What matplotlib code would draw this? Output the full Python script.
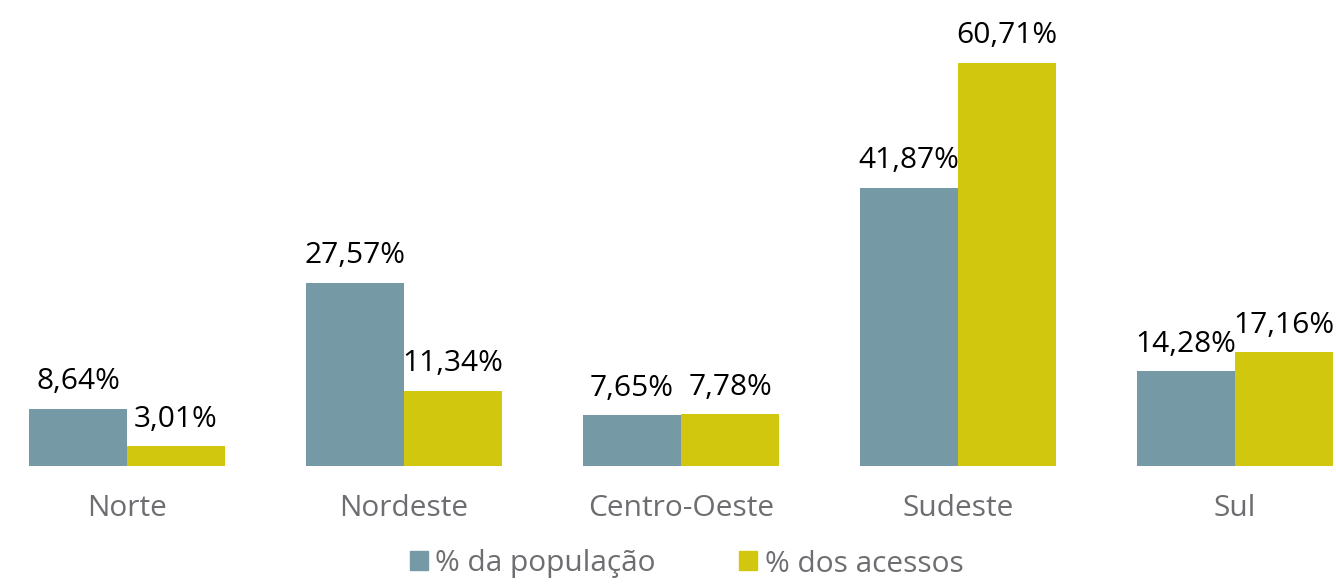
import numpy as np
import matplotlib
matplotlib.use("Agg")
import matplotlib.pyplot as plt
from matplotlib.patches import Patch

plt.rcParams["font.family"] = ["Open Sans", "DejaVu Sans"]

regioes = ["Norte", "Nordeste", "Centro-Oeste", "Sudeste", "Sul"]
populacao = [8.64, 27.57, 7.65, 41.87, 14.28]
acessos = [3.01, 11.34, 7.78, 60.71, 17.16]
series_names = ["% da população", "% dos acessos"]

TEAL = "#759AA5"
YELLOW = "#D0C70E"
GRAY = "#6D6E71"
FS = 21.5

fig = plt.figure(figsize=(13.36, 5.84), dpi=100)
ax = fig.add_axes([0, 118 / 584, 1, 466 / 584])

x = np.arange(len(regioes))
w = 0.354
b1 = ax.bar(x - w / 2, populacao, w, color=TEAL)
b2 = ax.bar(x + w / 2, acessos, w, color=YELLOW)

for bars, vals in ((b1, populacao), (b2, acessos)):
    for r, v in zip(bars, vals):
        ax.annotate(f"{v:.2f}%".replace(".", ","),
                    (r.get_x() + r.get_width() / 2, v),
                    xytext=(0, 9), textcoords="offset points",
                    ha="center", va="bottom", fontsize=FS, color="black")

ax.set_xlim(-127 / 277, 1209 / 277)
ax.set_ylim(0, 466 / 6.64)
ax.set_xticks(x)
ax.set_xticklabels(regioes, fontsize=FS, color=GRAY)
ax.tick_params(axis="x", length=0, pad=20)
ax.set_yticks([])
for s in ax.spines.values():
    s.set_visible(False)
ax.patch.set_alpha(0)

handles = [Patch(color=TEAL), Patch(color=YELLOW)]
leg = fig.legend(handles, series_names, loc="center", ncol=2,
                 bbox_to_anchor=(0.514, 20 / 584), frameon=False,
                 fontsize=FS, handlelength=0.6, handleheight=0.6,
                 handletextpad=0.25, columnspacing=2.8, borderpad=0.1)
for t in leg.get_texts():
    t.set_color(GRAY)

fig.savefig("out.png", dpi=100)
